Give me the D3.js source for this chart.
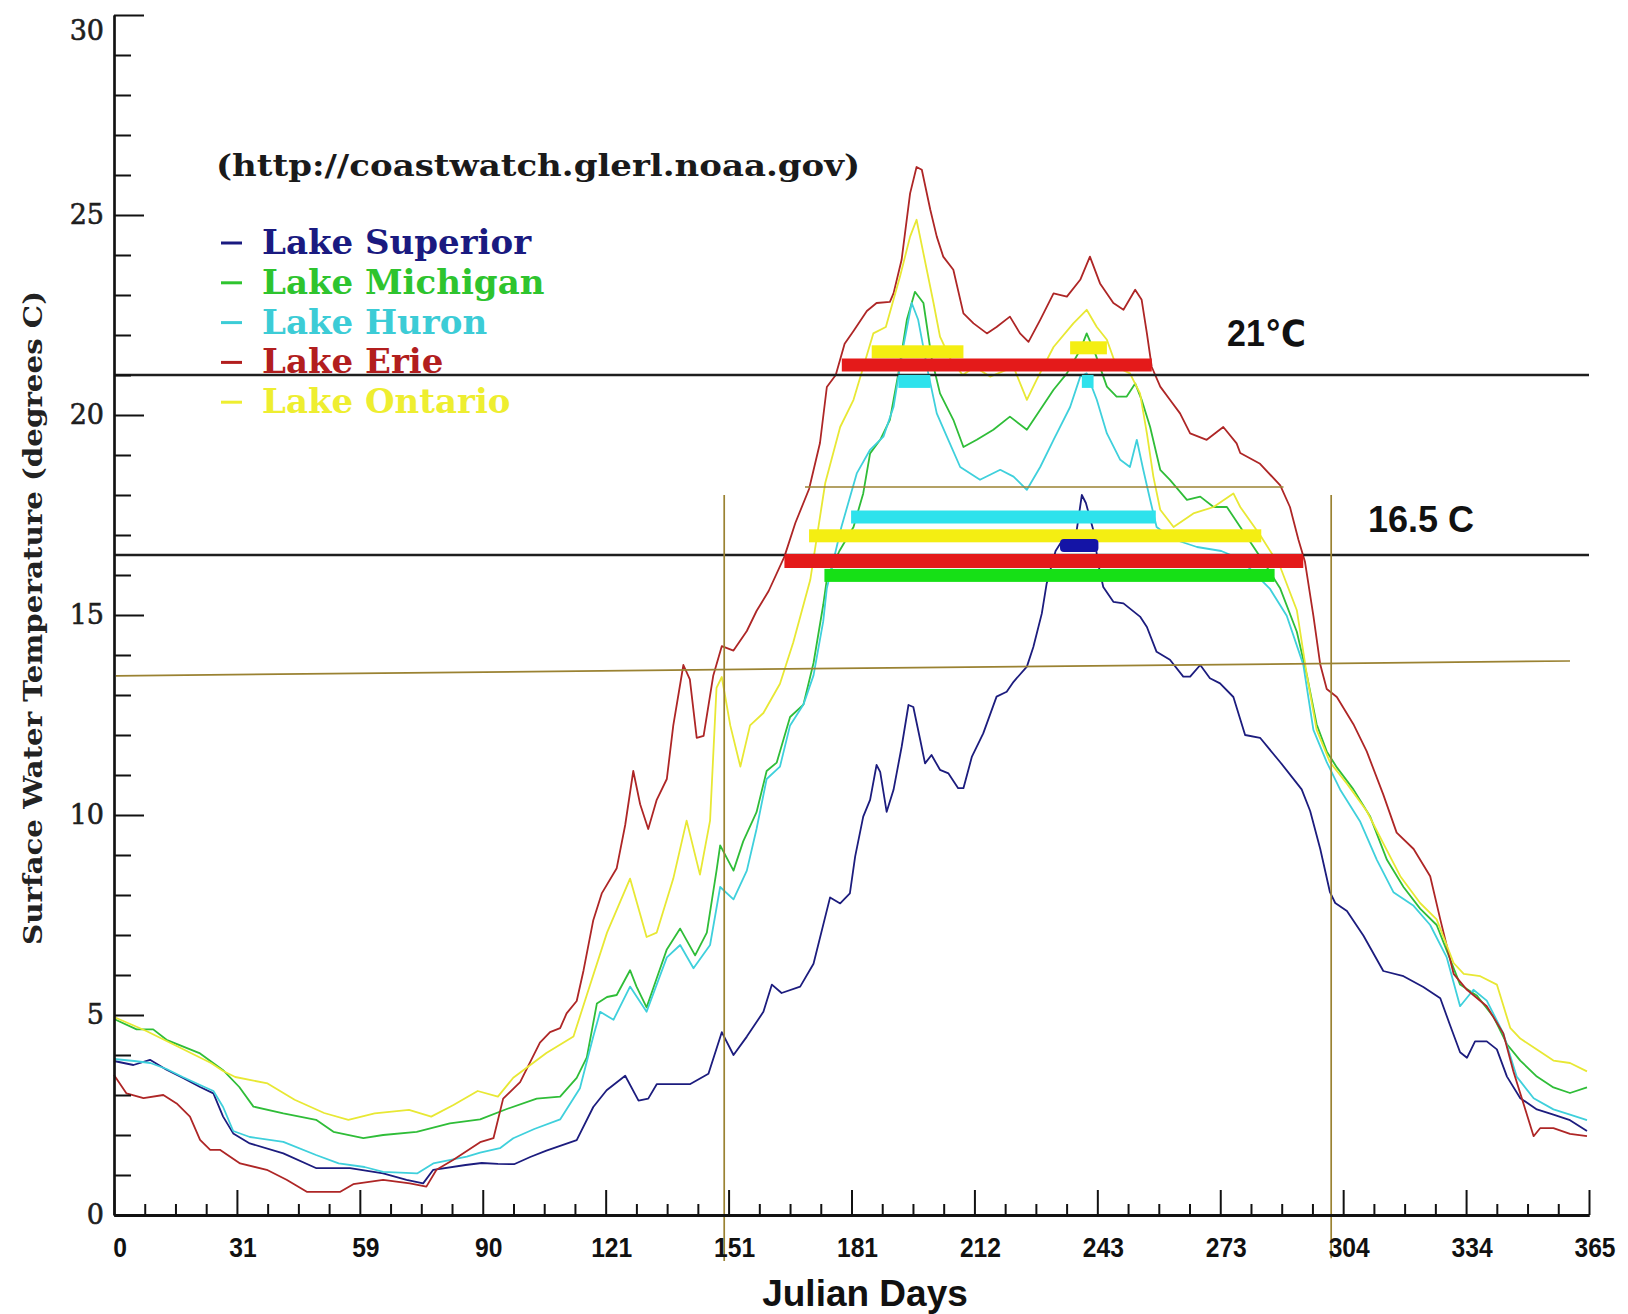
<!DOCTYPE html>
<html>
<head>
<meta charset="utf-8">
<script src="https://cdn.jsdelivr.net/npm/d3@7"></script>
<style>
  body { margin: 0; background: #ffffff; }
  svg { display: block; }
</style>
</head>
<body>
<svg id="chart" width="1628" height="1314"></svg>
<script>
// Daily mean surface water temperature (°C) by Julian day, one series per lake
const lakeNames = ["Lake Superior", "Lake Michigan", "Lake Huron", "Lake Erie", "Lake Ontario"];

const superiorSeries = [
  [0,3.85],[4.8,3.75],[8.9,3.88],[13,3.63],[17.2,3.42],[21.3,3.2],[24.6,3.04],[27,2.46],[29.5,2.04],
  [33.6,1.79],[41.9,1.54],[50.1,1.17],[58.4,1.17],[66.6,1.04],[72.4,0.88],[76.5,0.79],[79,1.13],
  [87,1.25],[91,1.3],[95,1.28],[99,1.27],[103,1.45],[107,1.61],[114.5,1.87],[118.6,2.7],[121.9,3.12],
  [126.5,3.48],[129.8,2.86],[132.2,2.91],[134.3,3.27],[142.5,3.27],[147.1,3.53],[150.4,4.57],[153.3,4.0],
  [156.6,4.46],[160.7,5.08],[162.8,5.76],[165.2,5.55],[169.8,5.71],[173.1,6.28],[177.2,7.94],[179.7,7.79],
  [182.1,8.04],[183.4,8.96],[185.4,9.96],[187.1,10.38],[188.7,11.25],[189.6,11.08],[191.2,10.08],
  [192.9,10.63],[194.9,11.7],[196.6,12.75],[197.8,12.7],[199.5,11.88],[200.7,11.29],[202.3,11.5],
  [204.4,11.13],[206.5,11.04],[208.9,10.67],[210.2,10.67],[212.3,11.46],[215.1,12.04],[218.4,12.96],
  [220.9,13.08],[222.6,13.33],[225.9,13.71],[227.5,14.2],[229.6,15.04],[230.8,15.79],[233,16.6],
  [235.5,17.0],[238.2,17.1],[239.5,18.0],[240.5,17.8],[242.4,17.1],[243.5,16.3],[244.8,15.7],
  [247.3,15.33],[249.8,15.29],[253.9,14.96],[255.6,14.7],[258,14.08],[261.3,13.88],[264.6,13.46],
  [266.3,13.46],[268.8,13.75],[271.2,13.42],[273.7,13.29],[277,12.95],[279.9,12.0],[283.6,11.93],
  [288.6,11.32],[293.9,10.64],[296,10.1],[298.5,9.15],[300.9,8.07],[302.2,7.8],[305.1,7.6],[309.2,6.98],
  [314.1,6.1],[319.1,5.97],[324,5.7],[328.2,5.42],[330.6,4.75],[333.1,4.07],[334.8,3.93],[336.8,4.34],
  [339.7,4.34],[342.2,4.14],[344.7,3.46],[348,2.92],[352.1,2.64],[356.2,2.51],[360.3,2.37],[364.5,2.1]
];

const michiganSeries = [
  [0,4.9],[5.6,4.64],[9.7,4.64],[13,4.38],[21.3,4.04],[27,3.62],[31,3.2],[34.5,2.71],[41.9,2.54],
  [50,2.38],[54.3,2.08],[61.7,1.92],[66.6,2.0],[74.9,2.08],[83.1,2.29],[90.6,2.39],[97.2,2.65],
  [104.6,2.91],[110.4,2.96],[114.5,3.43],[117,3.94],[119.5,5.29],[122,5.45],[124.4,5.5],[127.7,6.12],
  [129.3,5.71],[131.8,5.19],[134.3,5.92],[136.8,6.64],[140.1,7.16],[143.8,6.49],[146.7,7.06],[149.1,8.61],
  [150,9.24],[153.3,8.61],[155.7,9.34],[159,10.07],[161.5,11.1],[164,11.31],[167.3,12.45],[170.6,12.76],
  [173.1,13.8],[175.5,15.25],[176.4,15.9],[179.5,16.6],[183,17.2],[185.4,18.04],[187.1,19.04],
  [189.6,19.38],[192,19.88],[194.1,21.04],[196.2,22.38],[198.2,23.08],[200.3,22.8],[202.4,21.38],
  [204.4,20.54],[207.7,19.88],[210.2,19.2],[213.5,19.38],[217.6,19.63],[221.7,19.96],[225.9,19.63],
  [229.2,20.13],[232.5,20.63],[235.8,21.04],[239.1,21.63],[240.7,22.04],[242.8,21.54],[245.7,20.71],
  [248.1,20.46],[250.6,20.46],[252.7,20.79],[254.3,20.38],[256.4,19.7],[258.9,18.63],[261.3,18.38],
  [265.5,17.88],[268.8,17.96],[272.1,17.7],[275.4,17.7],[278.7,17.2],[284.4,16.34],[288.6,15.66],
  [292.7,14.58],[295.2,13.49],[297.6,12.27],[300.1,11.59],[302.6,11.19],[306.7,10.64],[310.8,9.97],
  [315,8.88],[319.1,8.2],[323.2,7.66],[327.3,7.25],[331.5,6.17],[333.1,5.76],[337.2,5.49],[341.4,4.95],
  [344.7,4.27],[348,3.86],[352.1,3.46],[356.2,3.19],[360.3,3.05],[364.5,3.19]
];

const huronSeries = [
  [0,3.9],[5,3.85],[9,3.8],[13,3.65],[17,3.45],[21.3,3.25],[24.6,3.1],[27,2.7],[29.5,2.1],[33.6,1.95],
  [41.9,1.83],[50,1.5],[55.6,1.29],[62,1.2],[66.6,1.08],[75,1.04],[79,1.29],[87.3,1.46],[90.6,1.56],
  [95.5,1.67],[98.8,1.92],[104,2.15],[110.4,2.39],[115.3,3.17],[118.6,4.46],[120.3,5.08],[123.6,4.88],
  [127.7,5.71],[131.8,5.08],[136.8,6.44],[140.1,6.75],[143.4,6.17],[147.5,6.75],[150,8.2],[153.3,7.89],
  [156.6,8.61],[159,9.65],[161.5,10.9],[164.8,11.21],[167.3,12.24],[170.6,12.76],[173.1,13.49],
  [175.5,14.84],[176.4,15.67],[180,17.2],[183.8,18.54],[187.1,19.13],[190.4,19.46],[192.9,20.2],
  [195.3,21.7],[197.4,22.8],[199,22.38],[201.5,21.04],[203.6,20.04],[206.1,19.46],[209.4,18.7],
  [214.3,18.38],[219.3,18.63],[222.6,18.46],[225.9,18.13],[229.2,18.7],[232.5,19.38],[236.6,20.2],
  [239.1,20.96],[240.7,21.04],[243.2,20.38],[245.7,19.54],[249,18.88],[251.4,18.7],[253.1,19.38],
  [254.7,18.63],[256.4,17.88],[258,17.2],[262,16.9],[268,16.7],[274,16.6],[278.7,16.4],[286,15.66],
  [290.2,14.98],[294.3,13.76],[296.8,12.13],[300.1,11.32],[303.4,10.64],[308.4,9.83],[312.5,8.88],
  [316.6,8.07],[321.6,7.73],[325.7,7.25],[329.8,6.44],[333.1,5.22],[336.4,5.63],[339.7,5.36],
  [343.8,4.54],[347.1,3.46],[351.3,2.92],[356.2,2.64],[360.3,2.51],[364.5,2.37]
];

const erieSeries = [
  [0,3.5],[3.1,3.04],[7.3,2.92],[12.2,3.0],[15.5,2.79],[18.8,2.46],[21.3,1.88],[23.8,1.63],[26.2,1.63],
  [31.2,1.29],[37.8,1.13],[42.7,0.88],[47.7,0.58],[56,0.58],[59.2,0.77],[66.6,0.88],[73.2,0.79],
  [77.3,0.71],[79.8,1.13],[84,1.38],[90.6,1.82],[93.9,1.92],[96.3,2.91],[100.5,3.32],[105.4,4.31],
  [107.9,4.57],[110.4,4.67],[112,5.04],[114.5,5.35],[116.2,6.12],[118.6,7.37],[120.7,8.04],[124.4,8.67],
  [126.5,9.75],[128.5,11.1],[130.2,10.27],[132.2,9.65],[134.3,10.38],[136.8,10.9],[138.4,12.24],
  [140.9,13.75],[142.5,13.39],[144.2,11.93],[145.9,11.98],[148.3,13.49],[150.4,14.22],[153.3,14.11],
  [156.6,14.6],[159,15.1],[162,15.6],[165.9,16.46],[168.6,17.3],[172,18.15],[174.7,19.3],[176.4,20.7],
  [178.6,21.0],[180.8,21.78],[183,22.1],[186.3,22.6],[188.7,22.8],[192,22.83],[192.9,23.04],
  [194.9,23.88],[197,25.54],[198.6,26.2],[199.9,26.13],[202,25.13],[203.6,24.46],[205.2,23.96],
  [207.7,23.63],[210.2,22.54],[212.7,22.29],[216,22.04],[218.4,22.2],[221.7,22.46],[224.2,22.04],
  [226.3,21.83],[229.2,22.38],[232.5,23.04],[235.8,22.96],[239.1,23.38],[241.5,23.96],[244,23.29],
  [247.3,22.8],[249.8,22.63],[252.7,23.13],[254.3,22.88],[255.6,22.04],[256.8,21.2],[258.9,20.71],
  [261.3,20.38],[263.8,20.04],[266.3,19.54],[270.4,19.38],[274.5,19.7],[277.8,19.29],[278.7,19.05],
  [283.6,18.78],[288.6,18.24],[291,17.7],[293.1,16.88],[294.7,16.34],[296.8,14.98],[298.5,13.76],
  [300.1,13.15],[302.6,12.95],[306.7,12.27],[310,11.59],[314.1,10.51],[317.4,9.56],[321.6,9.15],
  [325.7,8.47],[328.2,7.39],[331.5,6.03],[334.8,5.63],[339.7,5.22],[343.8,4.54],[346.3,3.59],
  [348.8,2.78],[351.3,1.97],[352.9,2.17],[356.2,2.17],[360.3,2.03],[364.5,1.97]
];

const ontarioSeries = [
  [0,4.95],[8,4.6],[16,4.2],[24,3.8],[27,3.6],[30,3.45],[38,3.29],[44.7,2.88],[52,2.55],[58,2.38],
  [64.5,2.54],[73,2.63],[78.5,2.46],[84,2.75],[90,3.1],[95,2.96],[98.8,3.43],[107,4.05],[113.7,4.46],
  [117,5.5],[122,7.06],[127.7,8.41],[131.8,6.95],[134.3,7.06],[138.4,8.41],[141.7,9.86],[145,8.51],
  [147.5,9.86],[149.1,13.18],[150.4,13.45],[152.5,12.24],[155,11.21],[157.4,12.24],[160.7,12.55],
  [164.8,13.28],[168.1,14.32],[172.3,15.88],[176,18.3],[179.7,19.7],[183,20.38],[187.9,22.04],
  [191,22.2],[194.5,23.46],[197,24.46],[198.6,24.88],[200.3,24.04],[202.8,22.8],[204.4,21.96],
  [207,21.4],[210,21.0],[213,21.2],[216.8,20.96],[222.6,21.2],[225.9,20.38],[228.3,20.88],[232.5,21.7],
  [237.4,22.29],[240.7,22.63],[243.2,22.2],[245.7,21.88],[248.1,21.2],[251.4,21.04],[253.9,20.54],
  [255.6,19.54],[257.2,18.46],[258.9,17.63],[262.2,17.2],[267.1,17.54],[272.1,17.7],[277,18.04],
  [278.7,17.7],[283.6,17.0],[288.6,16.2],[292.7,15.12],[295.2,13.49],[297.6,12.13],[300.9,11.32],
  [305.1,10.78],[310,10.1],[314.1,9.29],[318.3,8.47],[323.2,7.8],[327.3,7.39],[331.5,6.3],[334,6.03],
  [338.1,5.97],[342.2,5.76],[345.5,4.68],[348,4.41],[352.1,4.14],[356.2,3.86],[360.3,3.8],[364.5,3.59]
];

// Axis ticks and labels
const xTickLabels = ["0","31","59","90","121","151","181","212","243","273","304","334","365"];
const yTickValues = [0, 5, 10, 15, 20, 25, 30];

// Temperature thresholds (°C) drawn as reference lines
const thresholdTemps = [21, 16.5];
const thresholdLabels = ["21℃", "16.5 C"];

// Periods each lake spends above a threshold: [lake, firstDay, lastDay, level °C]
const warmPeriods = [
  ["Lake Ontario", 187.5, 210.2, 21.58],
  ["Lake Ontario", 236.6, 245.7, 21.68],
  ["Lake Erie",    180.1, 256.8, 21.25],
  ["Lake Huron",   194.1, 202.0, 20.84],
  ["Lake Huron",   239.5, 242.4, 20.84],
  ["Lake Huron",   182.4, 257.8, 17.45],
  ["Lake Ontario", 172.0, 283.9, 16.98],
  ["Lake Superior",234.1, 243.6, 16.74],
  ["Lake Erie",    165.9, 294.3, 16.35],
  ["Lake Michigan",175.8, 287.2, 15.99]
];

// Hand-drawn guide lines: [[day, °C], [day, °C]]
const guideLines = [
  [[0.5, 13.48], [360.3, 13.85]],
  [[171, 18.2], [289.4, 18.2]],
  [[151, 18.0], [151, -1.15]],
  [[301.2, 18.0], [301.2, -1.08]]
];

const lineColors = {
  "Lake Superior": "#1c1c7e",
  "Lake Michigan": "#2fbd38",
  "Lake Huron":    "#3fd0dc",
  "Lake Erie":     "#ae2626",
  "Lake Ontario":  "#e8e834"
};
const barColors = {
  "Lake Superior": "#1414a6",
  "Lake Michigan": "#16e016",
  "Lake Huron":    "#2ee2ec",
  "Lake Erie":     "#e41a1a",
  "Lake Ontario":  "#f4ee12"
};
const legendColors = {
  "Lake Superior": "#1a1a80",
  "Lake Michigan": "#2ec42e",
  "Lake Huron":    "#3cccd6",
  "Lake Erie":     "#b21e1e",
  "Lake Ontario":  "#eeee30"
};

const seriesByLake = {
  "Lake Superior": superiorSeries,
  "Lake Michigan": michiganSeries,
  "Lake Huron":    huronSeries,
  "Lake Erie":     erieSeries,
  "Lake Ontario":  ontarioSeries
};

// ---- layout ----
const svg = d3.select("#chart");
const x = d3.scaleLinear().domain([0, 365]).range([114, 1589]);
const y = d3.scaleLinear().domain([0, 30]).range([1215, 15]);

const serif = "'DejaVu Serif', 'Liberation Serif', serif";
const sans  = "'Liberation Sans', Arial, 'DejaVu Sans', sans-serif";

svg.append("rect").attr("width", 1628).attr("height", 1314).attr("fill", "#ffffff");

// ---- data lines ----
const line = d3.line().x(d => x(d[0])).y(d => y(d[1]));
const drawOrder = ["Lake Superior", "Lake Michigan", "Lake Huron", "Lake Erie", "Lake Ontario"];
svg.append("g").attr("class", "series")
  .selectAll("path")
  .data(drawOrder)
  .join("path")
  .attr("d", name => line(seriesByLake[name]))
  .attr("fill", "none")
  .attr("stroke", name => lineColors[name])
  .attr("stroke-width", 1.8)
  .attr("stroke-linejoin", "round");

// ---- threshold reference lines ----
svg.append("g").attr("class", "thresholds")
  .selectAll("line")
  .data(thresholdTemps)
  .join("line")
  .attr("x1", x(0)).attr("x2", x(365))
  .attr("y1", d => y(d)).attr("y2", d => y(d))
  .attr("stroke", "#1e1e1e")
  .attr("stroke-width", 2.4);

// ---- warm-period bars ----
svg.append("g").attr("class", "warm-periods")
  .selectAll("rect")
  .data(warmPeriods)
  .join("rect")
  .attr("x", d => x(d[1]))
  .attr("width", d => x(d[2]) - x(d[1]))
  .attr("y", d => y(d[3]) - (d[0] === "Lake Erie" && d[3] < 20 ? 7 : 6.5))
  .attr("height", d => (d[0] === "Lake Erie" && d[3] < 20 ? 14 : 13))
  .attr("rx", d => d[0] === "Lake Superior" ? 4 : 0)
  .attr("fill", d => barColors[d[0]]);

// ---- guide lines ----
svg.append("g").attr("class", "guides")
  .selectAll("line")
  .data(guideLines)
  .join("line")
  .attr("x1", d => x(d[0][0])).attr("y1", d => y(d[0][1]))
  .attr("x2", d => x(d[1][0])).attr("y2", d => y(d[1][1]))
  .attr("stroke", "#9a8232")
  .attr("stroke-width", 1.7);

// ---- axes ----
const majorDays = d3.range(13).map(i => i * 365 / 12);
const minorDays = d3.range(49).map(i => i * 365 / 48).filter((d, i) => i % 4 !== 0);

const xMinor = svg.append("g").attr("transform", `translate(0,${y(0)})`)
  .call(d3.axisBottom(x).tickValues(minorDays).tickSize(-11).tickSizeOuter(0).tickFormat(""));
const xMajor = svg.append("g").attr("transform", `translate(0,${y(0)})`)
  .call(d3.axisBottom(x).tickValues(majorDays).tickSize(-25).tickSizeOuter(0).tickFormat(""));
[xMinor, xMajor].forEach(g => {
  g.selectAll(".tick line").attr("stroke", "#111").attr("stroke-width", 2);
  g.select(".domain").attr("stroke", "#111").attr("stroke-width", 3);
});

svg.append("g").attr("class", "x-labels")
  .selectAll("text")
  .data(xTickLabels)
  .join("text")
  .attr("transform", (d, i) => `translate(${x(majorDays[i]) + 6},1257) scale(0.88,1)`)
  .attr("text-anchor", "middle")
  .attr("font-family", sans)
  .attr("font-weight", "bold")
  .attr("font-size", 28)
  .attr("fill", "#111")
  .text(d => d);

const yMinor = svg.append("g").attr("transform", `translate(${x(0)},0)`)
  .call(d3.axisLeft(y).tickValues(d3.range(31).filter(v => v % 5 !== 0)).tickSize(-17).tickSizeOuter(0).tickFormat(""));
const yMajor = svg.append("g").attr("transform", `translate(${x(0)},0)`)
  .call(d3.axisLeft(y).tickValues(yTickValues).tickSize(-30).tickSizeOuter(0).tickPadding(10).tickFormat(d3.format("d")));
[yMinor, yMajor].forEach(g => {
  g.selectAll(".tick line").attr("stroke", "#111").attr("stroke-width", 2);
  g.select(".domain").attr("stroke", "#111").attr("stroke-width", 2.2);
});
yMajor.selectAll(".tick text")
  .attr("font-family", serif)
  .attr("font-size", 27)
  .attr("fill", "#1e1e1e")
  .attr("stroke", "#1e1e1e")
  .attr("stroke-width", 0.6)
  // the top label sits just below its tick so it stays inside the page
  .attr("dy", d => d === 30 ? "0.9em" : "0.32em");

// axis titles
svg.append("text")
  .attr("transform", "translate(42,618) rotate(-90)")
  .attr("text-anchor", "middle")
  .attr("font-family", serif)
  .attr("font-weight", "bold")
  .attr("font-size", 26)
  .attr("fill", "#222")
  .attr("textLength", 654)
  .attr("lengthAdjust", "spacingAndGlyphs")
  .text("Surface Water Temperature (degrees C)");

svg.append("text")
  .attr("x", 865).attr("y", 1306)
  .attr("text-anchor", "middle")
  .attr("font-family", sans)
  .attr("font-weight", "bold")
  .attr("font-size", 37)
  .attr("fill", "#111")
  .text("Julian Days");

// threshold labels
svg.append("g").attr("class", "threshold-labels")
  .selectAll("text")
  .data(thresholdLabels)
  .join("text")
  .attr("x", (d, i) => i === 0 ? 1227 : 1368)
  .attr("y", (d, i) => y(thresholdTemps[i]) - (i === 0 ? 29 : 23))
  .attr("font-family", sans)
  .attr("font-weight", "bold")
  .attr("font-size", 36)
  .attr("fill", "#111")
  .attr("textLength", (d, i) => i === 0 ? 79 : null)
  .attr("lengthAdjust", "spacingAndGlyphs")
  .text(d => d);

// ---- legend ----
svg.append("text")
  .attr("x", 216).attr("y", 176)
  .attr("font-family", serif)
  .attr("font-weight", "bold")
  .attr("font-size", 30)
  .attr("fill", "#1a1a1a")
  .attr("textLength", 644)
  .attr("lengthAdjust", "spacingAndGlyphs")
  .text("(http://coastwatch.glerl.noaa.gov)");

const legend = svg.append("g").attr("class", "legend")
  .selectAll("g")
  .data(lakeNames)
  .join("g")
  .attr("transform", (d, i) => `translate(221,${254 + i * 39.8})`);
legend.append("line")
  .attr("x1", 0).attr("x2", 21).attr("y1", -11).attr("y2", -11)
  .attr("stroke", d => legendColors[d])
  .attr("stroke-width", 3);
legend.append("text")
  .attr("x", 41).attr("y", 0)
  .attr("font-family", serif)
  .attr("font-weight", "bold")
  .attr("font-size", 34)
  .attr("fill", d => legendColors[d])
  .text(d => d);
</script>
</body>
</html>
